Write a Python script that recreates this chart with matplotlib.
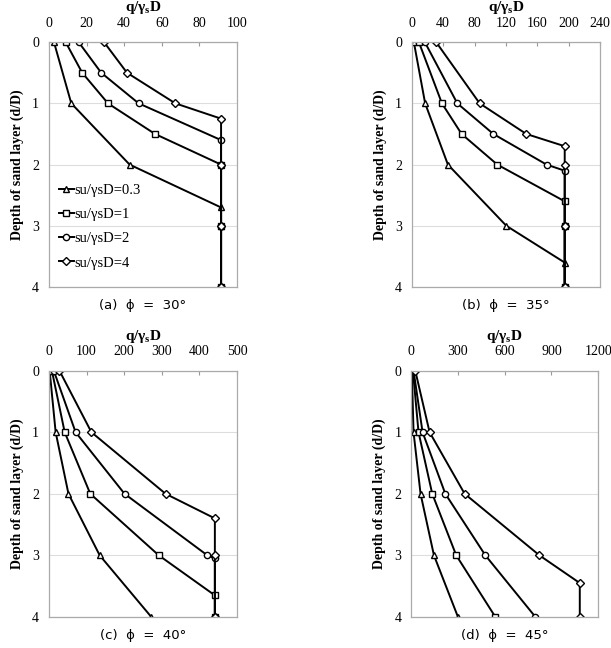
import matplotlib.pyplot as plt
import numpy as np

plt.rcParams['font.family'] = ['Liberation Serif', 'DejaVu Serif']
plt.rcParams['mathtext.fontset'] = 'custom'
plt.rcParams['mathtext.rm'] = 'Liberation Serif:bold'
plt.rcParams['mathtext.it'] = 'Liberation Serif:bold'
plt.rcParams['mathtext.bf'] = 'Liberation Serif:bold'

labels = ['su/\u03b3sD=0.3', 'su/\u03b3sD=1', 'su/\u03b3sD=2', 'su/\u03b3sD=4']
markers = ['^', 's', 'o', 'D']

# (a) phi = 30
a_d = [[0, 1, 2, 2.7, 3, 4],
       [0, 0.5, 1, 1.5, 2, 3, 4],
       [0, 0.5, 1, 1.6, 2, 3, 4],
       [0, 0.5, 1, 1.25, 2, 3, 4]]
a_q = [[2.7, 11.9, 42.9, 91.5, 91.5, 91.5],
       [8.9, 17.7, 31.4, 56.4, 91.5, 91.5, 91.5],
       [15.8, 27.8, 47.7, 91.5, 91.5, 91.5, 91.5],
       [29.3, 41.5, 67.2, 91.5, 91.5, 91.5, 91.5]]

# (b) phi = 35
b_d = [[0, 1, 2, 3, 3.6, 4],
       [0, 1, 1.5, 2, 2.6, 3, 4],
       [0, 1, 1.5, 2, 2.1, 3, 4],
       [0, 1, 1.5, 1.7, 2, 3, 4]]
b_q = [[2.6, 17, 46, 120.6, 195, 195],
       [9, 38.4, 63.5, 109, 195, 195, 195],
       [16.6, 58, 104, 171.8, 195, 195, 195],
       [31, 86.5, 146, 195, 195, 195, 195]]

# (c) phi = 40
c_d = [[0, 1, 2, 3, 4],
       [0, 1, 2, 3, 3.65, 4],
       [0, 1, 2, 3, 3.05, 4],
       [0, 1, 2, 2.4, 3, 4]]
c_q = [[2, 18, 52, 135, 272],
       [8, 42, 110, 292, 441, 441],
       [13, 71, 201, 421, 441, 441],
       [28, 113, 310, 441, 441, 441]]

# (d) phi = 45
d_d = [[0, 1, 2, 3, 4],
       [0, 1, 2, 3, 4],
       [0, 1, 2, 3, 4],
       [0, 1, 2, 3, 3.45, 4]]
d_q = [[4, 15, 60, 146, 300],
       [11, 47, 135, 289, 540],
       [15, 73, 219, 476, 797],
       [26, 118, 343, 823, 1082, 1082]]

panels = [
    (a_q, a_d, [0, 20, 40, 60, 80, 100], '(a)  \u03d5  =  30\u00b0'),
    (b_q, b_d, [0, 40, 80, 120, 160, 200, 240], '(b)  \u03d5  =  35\u00b0'),
    (c_q, c_d, [0, 100, 200, 300, 400, 500], '(c)  \u03d5  =  40\u00b0'),
    (d_q, d_d, [0, 300, 600, 900, 1200], '(d)  \u03d5  =  45\u00b0'),
]
rects = [[0.080, 0.557, 0.308, 0.378],
         [0.674, 0.557, 0.308, 0.378],
         [0.080, 0.048, 0.308, 0.380],
         [0.673, 0.048, 0.306, 0.380]]

fig = plt.figure(figsize=(6.11, 6.48), dpi=100)

for i, (qs, ds, xt, cap) in enumerate(panels):
    ax = fig.add_axes(rects[i])
    for q, d, m, lab in zip(qs, ds, markers, labels):
        ax.plot(q, d, color='black', lw=1.4, marker=m,
                ms=4.5 if m != 'D' else 3.8, mfc='white', mec='black',
                mew=1.0, label=lab)
    ax.set_xlim(xt[0], xt[-1])
    ax.set_ylim(4, 0)
    ax.set_xticks(xt)
    ax.set_yticks([0, 1, 2, 3, 4])
    ax.xaxis.tick_top()
    ax.xaxis.set_label_position('top')
    ax.tick_params(axis='x', direction='in', length=3, pad=9, labelsize=10,
                   color='#999999')
    ax.tick_params(axis='y', length=0, pad=7, labelsize=10)
    ax.grid(axis='y', color='#dddddd', lw=0.8)
    for s in ax.spines.values():
        s.set_color('#aaaaaa')
        s.set_linewidth(0.9)
    ax.set_xlabel(r'q/$\gamma_\mathrm{s}$D', fontsize=11, fontweight='bold',
                  labelpad=4)
    ax.set_ylabel('Depth of sand layer (d/D)', fontsize=10,
                  fontweight='bold', labelpad=6)
    ax.text(0.5, -0.075, cap, transform=ax.transAxes, ha='center',
            va='center', fontsize=9.5, family=['DejaVu Sans'])
    if i == 0:
        ax.legend(loc='lower left', bbox_to_anchor=(0.0, 0.03), frameon=False,
                  fontsize=10.5, handlelength=1.0, handletextpad=0.05,
                  labelspacing=0.75, borderaxespad=0.3)

fig.savefig('out.png', dpi=100)
